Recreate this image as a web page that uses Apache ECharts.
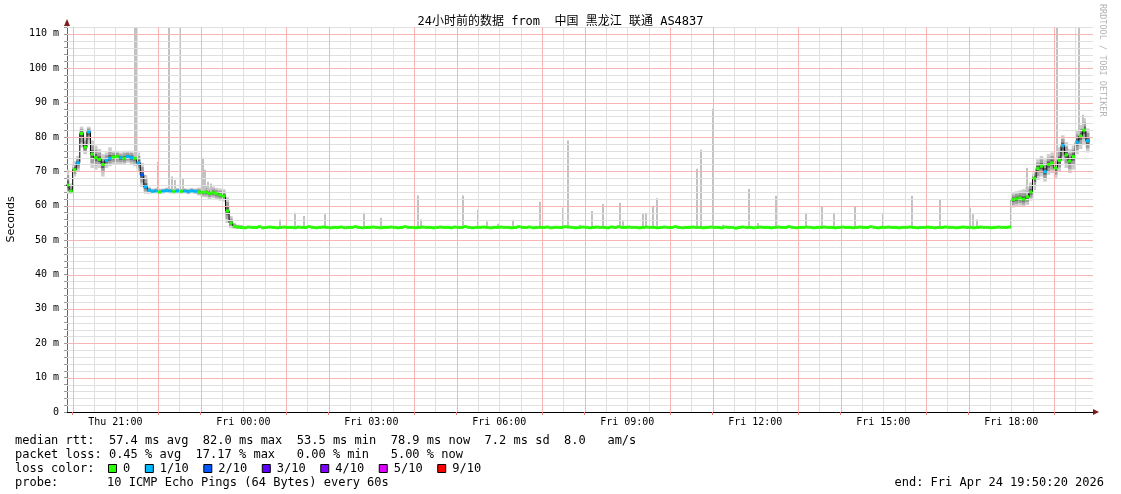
<!DOCTYPE html>
<html><head><meta charset="utf-8">
<script src="https://cdn.jsdelivr.net/npm/echarts@6/dist/echarts.min.js"></script>
<style>html,body{margin:0;padding:0;background:#fff}#c{width:1121px;height:494px}</style>
</head><body><div id="c"></div>
<script>
// ---------- data (minutes since Thu 00:00) ----------
const startMinute = 1190;   // Thu 19:50, first 5-minute step
const stepMinutes = 5;
const xMinMinute = 1192, xMaxMinute = 2635;

// median RTT (ms) per 5-minute step
const median = [
  66.0,64.3,
  70.5,72.5,81.0,77.0,81.5,75.0,74.0,73.5,72.0,73.2,73.8,74.2,
  74.3,74.0,73.8,74.3,74.0,73.8,72.5,69.0,65.5,64.5,64.2,64.3,
  64.0,64.3,64.4,64.3,64.2,64.3,64.2,64.3,64.1,64.3,64.2,64.0,
  63.9,64.0,63.6,63.8,63.5,63.2,62.8,58.5,55.0,54.0,53.8,53.7,
  53.6,53.8,53.7,53.7,53.9,53.6,53.7,53.8,53.7,53.6,53.7,53.8,
  53.7,53.7,53.6,53.8,53.7,53.7,53.9,53.7,53.6,53.7,53.8,53.7,
  53.6,53.7,53.7,53.8,53.6,53.7,53.7,53.9,53.7,53.6,53.7,53.7,
  53.8,53.7,53.6,53.7,53.7,53.8,53.7,53.6,53.7,53.9,53.7,53.7,
  53.6,53.7,53.8,53.7,53.7,53.6,53.7,53.8,53.7,53.7,53.6,53.8,
  53.7,53.7,53.9,53.7,53.6,53.7,53.7,53.8,53.7,53.6,53.7,53.7,
  53.8,53.7,53.7,53.6,53.7,53.9,53.7,53.7,53.8,53.6,53.7,53.7,
  53.7,53.8,53.6,53.7,53.7,53.7,53.9,53.8,53.7,53.6,53.7,53.8,
  53.7,53.6,53.7,53.8,53.7,53.7,53.6,53.8,53.7,53.9,53.7,53.7,
  53.8,53.7,53.7,53.6,53.7,53.8,53.7,53.7,53.6,53.7,53.8,53.7,
  53.7,53.9,53.7,53.6,53.7,53.7,53.8,53.7,53.7,53.6,53.7,53.8,
  53.7,53.7,53.6,53.8,53.7,53.7,53.5,53.7,53.8,53.7,53.7,53.6,
  53.7,53.8,53.7,53.7,53.6,53.7,53.8,53.7,53.7,53.9,53.7,53.6,
  53.7,53.7,53.8,53.7,53.6,53.7,53.7,53.8,53.7,53.7,53.6,53.7,
  53.8,53.7,53.7,53.6,53.7,53.8,53.7,53.7,53.9,53.7,53.6,53.7,
  53.7,53.8,53.7,53.7,53.6,53.7,53.7,53.8,53.7,53.6,53.7,53.7,
  53.8,53.7,53.6,53.7,53.7,53.8,53.7,53.7,53.6,53.7,53.8,53.7,
  53.7,53.6,53.7,53.8,53.7,53.7,53.6,53.7,53.8,53.7,53.7,53.8,
  61.8,62.0,62.3,61.9,62.6,64.0,68.0,70.8,71.5,69.9,72.0,72.5,
  71.0,73.2,77.5,74.8,73.0,74.3,78.5,80.3,82.0,78.9
];

// lost pings (out of 10) per step
const loss = [
  0,0,
  0,1,0,0,1,0,0,0,0,1,1,0,
  0,1,0,1,1,0,1,2,1,1,1,1,
  0,1,1,1,0,1,0,1,1,1,1,0,
  0,0,0,0,0,0,0,0,0,0,0,0,
  0,0,0,0,0,0,0,0,0,0,0,0, 0,0,0,0,0,0,0,0,0,0,0,0,
  0,0,0,0,0,0,0,0,0,0,0,0, 0,0,0,0,0,0,0,0,0,0,0,0,
  0,0,0,0,0,0,0,0,0,0,0,0, 0,0,0,0,0,0,0,0,0,0,0,0,
  0,0,0,0,0,0,0,0,0,0,0,0, 0,0,0,0,0,0,0,0,0,0,0,0,
  0,0,0,0,0,0,0,0,0,0,0,0, 0,0,0,0,0,0,0,0,0,0,0,0,
  0,0,0,0,0,0,0,0,0,0,0,0, 0,0,0,0,0,0,0,0,0,0,0,0,
  0,0,0,0,0,0,0,0,0,0,0,0, 0,0,0,0,0,0,0,0,0,0,0,0,
  0,0,0,0,0,0,0,0,0,0,0,0, 0,0,0,0,0,0,0,0,0,0,0,0,
  0,0,0,0,0,0,0,0,0,0,0,0, 0,0,0,0,0,0,0,0,0,0,0,0,
  0,0,0,0,0,0,0,0,0,1,0,0,
  0,0,1,0,0,0,1,0,0,1
];

// smoke (ping spread) for the evening steps 0..49
const eveningStep = 0;
const eveningSmokeLo = [63.5,63.5,68.5,70,77,75,78,71,70.5,71,68.5,71,71.5,72,72,72,72,72.5,72,71.5,
  70,65.5,63.5,63.5,63.6,63.6,63.5,63.6,63.7,63.6,63.5,63.6,63.5,63.6,63.4,63.6,63.4,63,62.5,62.4,
  62,62.2,61.8,61.5,61.2,55,53.5,53.3,53.3,53.2];
const eveningSmokeHi = [70.5,66.5,73,74.5,83,80,83,79,77.5,76.5,75,75.5,77,76,76,75.5,76,76,76,75.5,
  75.5,72.5,69,65.5,65,65.2,65,65,65.3,65.1,64.9,65.2,65,65.1,65,65.2,65,65.3,65.5,65.8,
  65.3,65.6,65.2,65,64.8,62.5,57,55,54.5,54.4];
// smoke for the late steps 266..287
const lateStep = 266;
const lateSmokeLo = [59.5,59.8,60,59.6,60.2,61.5,64.5,67.5,68.5,67,69,69.5,68,70,73,71,69.5,70.5,75,76.5,78,75.5];
const lateSmokeHi = [63.8,64.2,64.5,64.8,65.5,66.8,70,73.5,74.5,73.5,75,75.5,74,77,80.5,78.5,76.5,77.5,82,83.5,85.5,82.5];

// single high pings
const spikeMinutes = [1288,1291,1320,1336,1340,1344,1351,1355,1383,1386,1390,1395,
  1491,1513,1525,1555,1610,1634,1686,1690,1749,1770,1783,1798,1819,1857,1890,1897,1913,1930,1946,1970,1974,
  2002,2006,2016,2022,2078,2084,2101,2115,2151,2164,2189,2231,2254,2271,2300,2340,2380,2420,2462,2466,2472,
  2542,2584,2591,2615,2621];
const spikeTops = [112,112,72.8,112,68.5,67.5,112,68,74,70.5,67,66.5,
  56,58,57,57.5,58,56.5,63,56,63,58.8,55.4,54.8,55.9,61.2,59.4,79,54.5,58.5,60.5,60.9,55.5,
  57.9,58,60,62.2,70.8,76.3,88.2,54.5,64.9,55,62.9,58,59.7,58,59.7,58,62.9,61.7,59.4,57.5,56,
  71,112,77,112,86.5];

// axes
const yMax = 112;
const yLabelValues = [0,10,20,30,40,50,60,70,80,90,100,110];
const labelMinutes = [1260,1440,1620,1800,1980,2160,2340,2520];
const timeLabels = ['Thu 21:00','Fri 00:00','Fri 03:00','Fri 06:00','Fri 09:00','Fri 12:00','Fri 15:00','Fri 18:00'];

// texts
const titleText = '24小时前的数据 from  中国 黑龙江 联通 AS4837';
const rttStats = ['57.4 ms avg','82.0 ms max','53.5 ms min','78.9 ms now','7.2 ms sd','8.0   am/s'];
const lossStats = ['0.45 % avg','17.17 % max',' 0.00 % min',' 5.00 % now'];
const lossLegendLabels = ['0','1/10','2/10','3/10','4/10','5/10','9/10'];
const lossLegendColors = ['#26ff00','#00b8ff','#0059ff','#5e00ff','#7e00ff','#dd00ff','#ff0000'];
const probeText = '10 ICMP Echo Pings (64 Bytes) every 60s';
const endText = 'end: Fri Apr 24 19:50:20 2026';

// ---------- build ----------
function lossColor(n){
  if (n <= 0) return lossLegendColors[0];
  if (n === 1) return lossLegendColors[1];
  if (n === 2) return lossLegendColors[2];
  if (n === 3) return lossLegendColors[3];
  if (n === 4) return lossLegendColors[4];
  if (n < 9) return lossLegendColors[5];
  return lossLegendColors[6];
}
const stepTime = i => startMinute + i * stepMinutes;

const smokeData = [];
eveningSmokeLo.forEach((lo, k) => { const i = eveningStep + k; smokeData.push([stepTime(i), lo, eveningSmokeHi[k], median[i]]); });
lateSmokeLo.forEach((lo, k) => { const i = lateStep + k; smokeData.push([stepTime(i), lo, lateSmokeHi[k], median[i]]); });

const spikeData = spikeMinutes.map((m, k) => {
  const i = Math.min(median.length - 1, Math.max(0, Math.floor((m - startMinute) / stepMinutes)));
  return [m, median[i], spikeTops[k]];
});

const medianSeg = median.map((v, i) => [stepTime(i), v, loss[i]]);
const blackLine = median.map((v, i) => [stepTime(i), v]);
blackLine.push([stepTime(median.length), median[median.length - 1]]);

// grid line positions
const vMinor = [], vMajor = [], hMinor = [], hMajor = [];
for (let m = 1200; m < xMaxMinute; m += 30) {
  if (m % 60 === 0 && m % 180 !== 0) vMajor.push(m); else vMinor.push(m);
}
for (let v = 2; v <= yMax; v += 2) { if (v % 10 === 0) hMajor.push(v); else hMinor.push(v); }

function gridLines(id, color) {
  return {
    id, type: 'line', silent: true, z: 1, data: [], showSymbol: false,
    markLine: {
      silent: true, symbol: ['none', 'none'], label: {show: false}, animation: false,
      emphasis: {disabled: true},
      lineStyle: {color, width: 1, type: 'solid', opacity: 1},
      data: []
    }
  };
}

const FONT = "'DejaVu Sans Mono','Noto Sans CJK SC',monospace";
const chart = echarts.init(document.getElementById('c'), null, {renderer: 'canvas'});

const legendGraphics = [];
const rowY = [441, 455, 469, 483];
const charW = 7.22;
const txt = (x, y, s) => ({type:'text', x, y, style:{text:s, font:'12px ' + FONT, fill:'#000', textVerticalAlign:'middle'}});
legendGraphics.push(txt(15, rowY[0], 'median rtt:  ' + rttStats.join('  ')));
legendGraphics.push(txt(15, rowY[1], 'packet loss: ' + lossStats.join('  ')));
legendGraphics.push(txt(15, rowY[2], 'loss color:'));
legendGraphics.push(txt(15, rowY[3], 'probe:'));
legendGraphics.push(txt(107, rowY[3], probeText));
legendGraphics.push({type:'text', x:1104, y:rowY[3], style:{text:endText, font:'12px ' + FONT, fill:'#000', textAlign:'right', textVerticalAlign:'middle'}});
let sx = 108;
lossLegendLabels.forEach((lab, k) => {
  legendGraphics.push({type:'rect', shape:{x:sx+0.5, y:rowY[2]-4.5, width:8, height:8}, style:{fill:lossLegendColors[k], stroke:'#000', lineWidth:1}});
  legendGraphics.push(txt(sx + 15, rowY[2], lab));
  sx += (lab.length + 4.1) * charW;
});

const option = {
  animation: false,
  backgroundColor: '#ffffff',
  grid: {left: 67, right: 28, top: 27, bottom: 82, containLabel: false, outerBoundsMode: 'none'},
  xAxis: {
    type: 'value', min: xMinMinute, max: xMaxMinute,
    axisLine: {show: true, lineStyle: {color: '#000', width: 1}},
    axisTick: {show: true, customValues: vMajor, length: 3, lineStyle: {color: '#f08080'}},
    splitLine: {show: false},
    axisLabel: {show: true, customValues: labelMinutes, margin: 5, fontFamily: FONT, fontSize: 10, color: '#000',
      formatter: v => timeLabels[labelMinutes.indexOf(v)] || ''}
  },
  yAxis: {
    type: 'value', min: 0, max: yMax, interval: 2,
    name: 'Seconds', nameLocation: 'middle', nameGap: 50, nameRotate: 90,
    nameTextStyle: {fontFamily: "'DejaVu Sans',sans-serif", fontSize: 11, color: '#000'},
    axisLine: {show: true, lineStyle: {color: '#666', width: 1}},
    axisTick: {show: true, length: 3, lineStyle: {color: '#999'}},
    splitLine: {show: false},
    axisLabel: {show: true, interval: 0, margin: 8, fontFamily: FONT, fontSize: 10, color: '#000',
      formatter: v => yLabelValues.indexOf(v) < 0 ? '' : (v === 0 ? '0' : v + ' m')}
  },
  series: [
    gridLines('gridMinor', '#e0e0e0'),
    gridLines('gridMajor', '#f6b6b6'),
    { // smoke
      type: 'custom', silent: true, z: 2, clip: true, data: smokeData,
      renderItem: (params, api) => {
        const t = api.value(0), lo = api.value(1), hi = api.value(2), md = api.value(3);
        const mk = (a, b, fill) => {
          const p0 = api.coord([t, b]), p1 = api.coord([t + stepMinutes, a]);
          return {type:'rect', shape:{x:p0[0], y:p0[1], width:p1[0]-p0[0], height:Math.max(1, p1[1]-p0[1])}, style:{fill}};
        };
        return {type:'group', children:[
          mk(lo, hi, '#cdcdcd'),
          mk(md - (md - lo) * 0.65, md + (hi - md) * 0.65, '#a0a0a0'),
          mk(md - (md - lo) * 0.3, md + (hi - md) * 0.3, '#606060')
        ]};
      }
    },
    { // spikes
      type: 'custom', silent: true, z: 3, clip: true, data: spikeData,
      renderItem: (params, api) => {
        const p0 = api.coord([api.value(0), api.value(2)]), p1 = api.coord([api.value(0), api.value(1)]);
        return {type:'rect', shape:{x:Math.round(p0[0]) - 1, y:p0[1], width:2, height:p1[1]-p0[1]}, style:{fill:'#c2c2c2'}};
      }
    },
    { // black median connector
      type: 'line', silent: true, z: 4, data: blackLine, step: 'end', showSymbol: false,
      lineStyle: {color: '#000', width: 1}, clip: true
    },
    { // colored median by loss
      type: 'custom', silent: true, z: 5, clip: true, data: medianSeg,
      renderItem: (params, api) => {
        const t = api.value(0), v = api.value(1), n = api.value(2);
        const p0 = api.coord([t, v]), p1 = api.coord([t + stepMinutes, v]);
        return {type:'rect', shape:{x:p0[0], y:p0[1]-1.5, width:p1[0]-p0[0], height:3}, style:{fill:lossColor(n)}};
      }
    }
  ],
  graphic: [
    {type:'text', x:560.5, y:22, style:{text:titleText, font:'12px ' + FONT, fill:'#000', textAlign:'center', textVerticalAlign:'middle'}},
    {type:'text', x:1106, y:4, rotation:-Math.PI/2, style:{text:'RRDTOOL / TOBI OETIKER', font:'8.5px ' + FONT, fill:'#b4b4b4'}},
    {type:'polygon', shape:{points:[[64,26],[70,26],[67,19]]}, style:{fill:'#7f1d1d'}},
    {type:'polygon', shape:{points:[[1093,409],[1093,415],[1099,412]]}, style:{fill:'#7f1d1d'}},
    ...legendGraphics
  ]
};
chart.setOption(option);

// crisp (pixel-snapped) grid lines placed through the chart's own scales
const xp = m => Math.round(chart.convertToPixel({xAxisIndex: 0}, m)) + 0.5;
const yp = v => Math.round(chart.convertToPixel({yAxisIndex: 0}, v)) + 0.5;
const gTop = Math.round(chart.convertToPixel({yAxisIndex: 0}, yMax));
const gBot = Math.round(chart.convertToPixel({yAxisIndex: 0}, 0));
const gLeft = Math.round(chart.convertToPixel({xAxisIndex: 0}, xMinMinute));
const gRight = Math.round(chart.convertToPixel({xAxisIndex: 0}, xMaxMinute));
const lineSet = (xs, ys) => xs.map(m => [{x: xp(m), y: gTop}, {x: xp(m), y: gBot}])
  .concat(ys.map(v => [{x: gLeft, y: yp(v)}, {x: gRight, y: yp(v)}]));
chart.setOption({series: [
  {id: 'gridMinor', markLine: {data: lineSet(vMinor, hMinor)}},
  {id: 'gridMajor', markLine: {data: lineSet(vMajor, hMajor)}}
]});
</script></body></html>
